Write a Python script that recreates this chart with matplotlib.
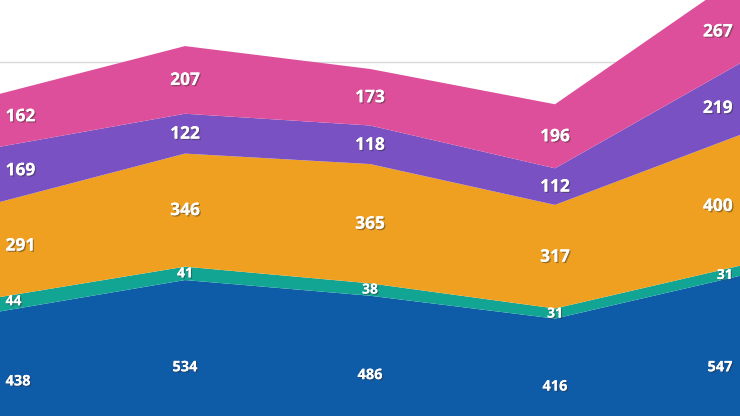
import matplotlib
matplotlib.use("Agg")
import matplotlib.pyplot as plt
import matplotlib.patheffects as pe
import numpy as np

# stacked series, bottom to top
x = [0, 1, 2, 3, 4]
blue = [438, 534, 486, 416, 547]
teal = [44, 41, 38, 31, 31]
orange = [291, 346, 365, 317, 400]
purple = [169, 122, 118, 112, 219]
pink = [162, 207, 173, 196, 267]

series = [blue, teal, orange, purple, pink]
colors = ['#0E5BA8', '#13A594', '#EFA021', '#7A51C3', '#DE4F9B']
label_sizes = [10.5, 10, 12.5, 12.5, 12.5]

fig = plt.figure(figsize=(7.4, 4.16), dpi=100)
ax = fig.add_axes([0, 0, 1, 1])
ax.stackplot(x, *series, colors=colors, linewidth=0, zorder=2)
ax.axhline(1200, color='#D9D9D9', linewidth=1, zorder=1)

ax.set_xlim(0, 4)
ax.set_ylim(118, 1391)
ax.axis('off')

shadow = [pe.withSimplePatchShadow(offset=(1, -1), alpha=0.45, shadow_rgbFace='#333333'), pe.Normal()]
bottoms = np.zeros(len(x))
for vals, fs in zip(series, label_sizes):
    vals = np.array(vals)
    tops = bottoms + vals
    for i, (xi, v) in enumerate(zip(x, vals)):
        # edge labels sit inside the plot, so take the band middle where the text is
        if i == 0:
            xt, ha, xc = 0.03, 'left', 0.1
        elif i == len(x) - 1:
            xt, ha, xc = 3.96, 'right', 3.9
        else:
            xt, ha, xc = xi, 'center', xi
        m = (np.interp(xc, x, bottoms) + np.interp(xc, x, tops)) / 2
        ax.text(xt, m, str(v), ha=ha, va='center', color='white', fontsize=fs,
                fontweight='bold', family='Open Sans', path_effects=shadow, zorder=3)
    bottoms = tops

fig.savefig('out.png', dpi=100)
